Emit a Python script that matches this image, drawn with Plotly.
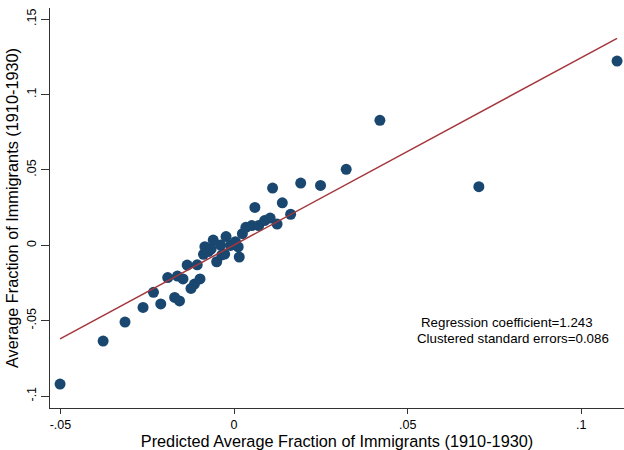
import plotly.graph_objects as go

# Predicted vs. actual average fraction of immigrants, 1910-1930
predicted = [
    -0.0501, -0.0377, -0.0314, -0.0262, -0.0232, -0.0211, -0.0191, -0.0171,
    -0.0157, -0.0163, -0.0147, -0.0135, -0.0124, -0.0114, -0.0106, -0.0098,
    -0.0088, -0.0084, -0.0074, -0.0066, -0.0060, -0.0050, -0.0039, -0.0035,
    -0.0027, -0.0023, -0.0010, 0.0004, 0.0012, 0.0015, 0.0024, 0.0034,
    0.0051, 0.0060, 0.0071, 0.0088, 0.0104, 0.0111, 0.0124, 0.0139,
    0.0163, 0.0192, 0.0249, 0.0323, 0.0420, 0.0705, 0.1103,
]
actual = [
    -0.0920, -0.0635, -0.0509, -0.0412, -0.0312, -0.0389, -0.0214, -0.0346,
    -0.0369, -0.0204, -0.0223, -0.0131, -0.0286, -0.0257, -0.0129, -0.0223,
    -0.0060, -0.0009, -0.0041, -0.0025, 0.0035, -0.0109, 0.0002, -0.0064,
    -0.0058, 0.0058, -0.0001, 0.0024, -0.0011, -0.0078, 0.0077, 0.0119,
    0.0131, 0.0251, 0.0131, 0.0164, 0.0181, 0.0380, 0.0141, 0.0282,
    0.0206, 0.0413, 0.0397, 0.0504, 0.0829, 0.0389, 0.1222,
]

# Fitted regression line
coef = 1.243
se = 0.086
intercept = 0.0002

x_ticks = [-0.05, 0, 0.05, 0.1]
x_tick_labels = ["-.05", "0", ".05", ".1"]
y_ticks = [-0.1, -0.05, 0, 0.05, 0.1, 0.15]
y_tick_labels = ["-.1", "-.05", "0", ".05", ".1", ".15"]

x_lo, x_hi = min(predicted), max(predicted)
fit_x = [x_lo, x_hi]
fit_y = [intercept + coef * v for v in fit_x]

FONT = "Liberation Sans, Arial, sans-serif"
NAVY = "#1a476f"
MAROON = "#a4373d"
AXIS = "#333333"

fig = go.Figure()
fig.add_trace(go.Scatter(
    x=predicted, y=actual, mode="markers",
    marker=dict(color=NAVY, size=11, line=dict(width=0)),
    showlegend=False, hoverinfo="skip",
))
fig.add_trace(go.Scatter(
    x=fit_x, y=fit_y, mode="lines",
    line=dict(color=MAROON, width=1.5),
    showlegend=False, hoverinfo="skip",
))

fig.add_annotation(
    xref="paper", yref="paper", x=(419 - 50) / 574, y=(408 - 322) / 400,
    xanchor="left", yanchor="middle", showarrow=False,
    text=f"Regression coefficient={coef:.3f}",
    font=dict(family=FONT, size=13.3, color="black"),
)
fig.add_annotation(
    xref="paper", yref="paper", x=(415 - 50) / 574, y=(408 - 338) / 400,
    xanchor="left", yanchor="middle", showarrow=False,
    text=f"Clustered standard errors={se:.3f}",
    font=dict(family=FONT, size=13.3, color="black"),
)

fig.update_layout(
    width=624, height=450,
    margin=dict(l=50, r=0, t=8, b=42),
    paper_bgcolor="white", plot_bgcolor="white",
    font=dict(family=FONT, color="black"),
    xaxis=dict(
        range=[-0.0530, 0.1123], showgrid=False, zeroline=False,
        showline=True, linecolor=AXIS, linewidth=1.3,
        ticks="outside", ticklen=5, tickwidth=1.3, tickcolor=AXIS,
        tickvals=x_ticks, ticktext=x_tick_labels,
        tickfont=dict(family=FONT, size=12.5, color="black"),
        title=dict(text="Predicted Average Fraction of Immigrants (1910-1930)",
                   font=dict(family=FONT, size=16.3, color="black"), standoff=4),
    ),
    yaxis=dict(
        range=[-0.1079, 0.1574], showgrid=False, zeroline=False,
        showline=True, linecolor=AXIS, linewidth=1.3,
        ticks="outside", ticklen=8, tickwidth=1.3, tickcolor=AXIS,
        tickvals=y_ticks, ticktext=y_tick_labels, tickangle=-90,
        tickfont=dict(family=FONT, size=12.5, color="black"),
        title=dict(text="Average Fraction of Immigrants (1910-1930)",
                   font=dict(family=FONT, size=16.3, color="black"), standoff=2),
    ),
)

fig.write_html("out.html")
